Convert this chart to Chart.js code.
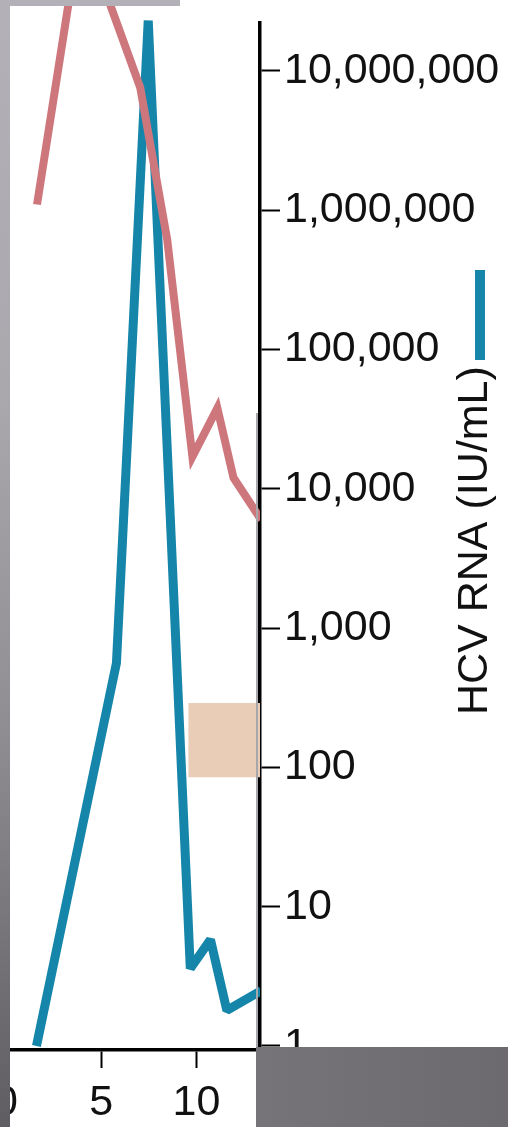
<!DOCTYPE html>
<html>
<head>
<meta charset="utf-8">
<script src="https://cdn.jsdelivr.net/npm/chart.js@4.4.1/dist/chart.umd.min.js"></script>
<style>
  html, body { margin: 0; padding: 0; background: #ffffff; }
  #wrap { position: relative; width: 508px; height: 1127px; overflow: hidden; background: #ffffff; }
  #chart { position: absolute; left: 0; top: 0; }
  .edge-left { position: absolute; left: 0; top: 0; width: 10px; height: 1127px;
    background: linear-gradient(to bottom, #b3b0b7 0%, #aaa8ad 35%, #8f8d92 65%, #5f5d61 100%); }
  .edge-top { position: absolute; left: 0; top: 0; width: 180px; height: 6px; background: #b3b0b7; }
  .edge-corner { position: absolute; left: 256px; top: 1047px; width: 252px; height: 80px;
    background: linear-gradient(to right, #767478, #6c6a6e); }
  .edge-seam { position: absolute; left: 256px; top: 413px; width: 2px; height: 634px; background: #a7a6aa; }
</style>
</head>
<body>
<div id="wrap">
  <canvas id="chart" width="508" height="1127"></canvas>
  <div class="edge-left"></div>
  <div class="edge-top"></div>
  <div class="edge-seam"></div>
  <div class="edge-corner"></div>
</div>
<script>
// Weeks after exposure
const hcvWeeks  = [1.6, 5.8, 7.47, 9.68, 10.74, 11.6, 13.4];
// HCV RNA, IU/mL
const hcvValues = [1, 560, 23000000, 3.6, 5.8, 1.8, 2.5];

// ALT curve (drawn on its own, unlabelled axis)
const altWeeks  = [1.63, 3.89, 5.0, 7.05, 8.47, 9.79, 11.1, 11.95, 13.4];
const altValues = [1100000, 103000000, 45000000, 7600000, 610000, 17000, 38000, 12000, 6000];

// Shaded band: weeks and HCV RNA range
const bandWeeks  = [9.58, 13.4];
const bandValues = [85, 290];

const xTickValues = [0, 5, 10];
const yTickValues = [1, 10, 100, 1000, 10000, 100000, 1000000, 10000000];

const axisTitle = 'HCV RNA (IU/mL)';

const TEAL  = '#1585a9';
const ROSE  = '#cd777d';
const BEIGE = '#e9cdb7';
const FONT  = "'Liberation Sans', Arial, sans-serif";

const toPoints = (xs, ys) => xs.map((x, i) => ({ x, y: ys[i] }));

const yRange = { min: 0.936, max: 22100000 };

const bandPlugin = {
  id: 'band',
  beforeDatasetsDraw(chart) {
    const { ctx, chartArea, scales } = chart;
    const x0 = scales.x.getPixelForValue(bandWeeks[0]);
    const x1 = scales.x.getPixelForValue(bandWeeks[1]);
    const y0 = scales.y.getPixelForValue(bandValues[1]);
    const y1 = scales.y.getPixelForValue(bandValues[0]);
    ctx.save();
    ctx.beginPath();
    ctx.rect(chartArea.left, chartArea.top, chartArea.right - chartArea.left, chartArea.bottom - chartArea.top);
    ctx.clip();
    ctx.fillStyle = BEIGE;
    ctx.fillRect(x0, y0, x1 - x0, y1 - y0);
    ctx.restore();
  }
};

// Rotated axis title with its colour key, reading bottom to top
const titlePlugin = {
  id: 'sideTitle',
  afterDraw(chart) {
    const { ctx } = chart;
    ctx.save();
    ctx.fillStyle = TEAL;
    ctx.fillRect(475, 270, 10, 90);
    ctx.translate(487, 715);
    ctx.rotate(-Math.PI / 2);
    ctx.font = '43px ' + FONT;
    ctx.fillStyle = '#111111';
    ctx.textAlign = 'left';
    ctx.textBaseline = 'alphabetic';
    ctx.fillText(axisTitle, 0, 0);
    ctx.restore();
  }
};

new Chart(document.getElementById('chart'), {
  type: 'line',
  data: {
    datasets: [
      {
        label: 'ALT',
        data: toPoints(altWeeks, altValues),
        yAxisID: 'yAlt',
        borderColor: ROSE,
        borderWidth: 8,
        pointRadius: 0,
        tension: 0,
        borderJoinStyle: 'miter',
        clip: { left: 0, top: false, right: 0, bottom: 0 }
      },
      {
        label: 'HCV RNA',
        data: toPoints(hcvWeeks, hcvValues),
        yAxisID: 'y',
        borderColor: TEAL,
        borderWidth: 9,
        pointRadius: 0,
        tension: 0,
        borderJoinStyle: 'bevel',
        clip: { left: 0, top: false, right: 0, bottom: 0 }
      }
    ]
  },
  options: {
    responsive: false,
    devicePixelRatio: 1,
    animation: false,
    layout: { autoPadding: false, padding: { left: 6, top: 23, right: 0, bottom: 0 } },
    plugins: { legend: { display: false }, tooltip: { enabled: false } },
    scales: {
      x: {
        type: 'linear',
        position: 'bottom',
        min: 0,
        max: 13.34,
        afterBuildTicks: s => { s.ticks = xTickValues.map(v => ({ value: v })); },
        afterFit: s => { s.height = 77; s.paddingLeft = 0; s.paddingRight = 0; },
        border: { display: true, color: '#000', width: 3.5 },
        grid: { drawOnChartArea: false, drawTicks: true, tickLength: 18, tickWidth: 2, tickColor: '#000' },
        ticks: { color: '#111', font: { family: FONT, size: 43 }, padding: 9, maxRotation: 0, autoSkip: false }
      },
      y: {
        type: 'logarithmic',
        position: 'right',
        min: yRange.min,
        max: yRange.max,
        afterBuildTicks: s => { s.ticks = yTickValues.map(v => ({ value: v })); },
        afterFit: s => { s.width = 248; s.paddingTop = 0; s.paddingBottom = 0; },
        border: { display: true, color: '#000', width: 3.5 },
        grid: { drawOnChartArea: false, drawTicks: true, tickLength: 20, tickWidth: 2, tickColor: '#000' },
        ticks: {
          color: '#111',
          font: { family: FONT, size: 43 },
          padding: 4,
          autoSkip: false,
          callback: v => Number(v).toLocaleString('en-US')
        }
      },
      yAlt: {
        type: 'logarithmic',
        display: false,
        min: yRange.min,
        max: yRange.max
      }
    }
  },
  plugins: [bandPlugin, titlePlugin]
});
</script>
</body>
</html>
